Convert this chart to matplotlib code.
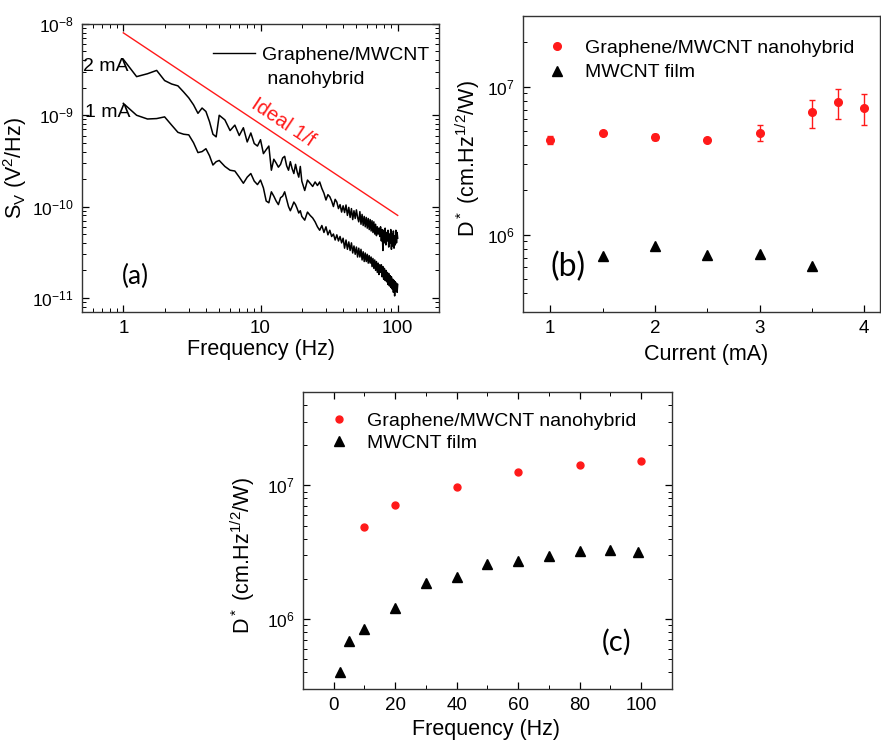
import numpy as np
import matplotlib
matplotlib.use("Agg")
import matplotlib.pyplot as plt
from matplotlib.ticker import LogLocator, FixedLocator, MultipleLocator, NullFormatter, FuncFormatter
from matplotlib.lines import Line2D

plt.rcParams['font.family'] = ['Liberation Sans', 'DejaVu Sans']
plt.rcParams['mathtext.fontset'] = 'custom'
plt.rcParams['mathtext.rm'] = 'Liberation Sans'
plt.rcParams['mathtext.it'] = 'Liberation Sans:italic'
plt.rcParams['mathtext.bf'] = 'Liberation Sans:bold'
plt.rcParams['axes.unicode_minus'] = False

# ---- panel (a): noise spectra, S_V in units of 1e-10 V^2/Hz
freq_a = [1.0, 1.25, 1.5, 1.75, 2.0, 2.25, 2.5, 2.75, 3.0, 3.25, 3.5, 3.75, 4.0, 4.25, 4.5, 4.75, 5.0,
          5.5, 6.0, 6.5, 7.0, 7.5, 8.0, 8.5, 9.0, 9.5, 10.0, 10.5, 11.0, 11.5, 12.0, 12.5, 13.0, 13.5,
          14.0, 14.5, 15.0, 15.5, 16.0, 16.5, 17.0, 17.5, 18.0, 18.5, 19.0, 19.5, 20.0,
          21, 22, 23, 24, 25, 26, 27, 28, 29, 30, 31, 32, 33, 34, 35, 36, 37, 38, 39, 40,
          41, 42, 43, 44, 45, 46, 47, 48, 49, 50, 51, 52, 53, 54, 55, 56, 57, 58, 59, 60,
          61, 62, 63, 64, 65, 66, 67, 68, 69, 70, 71, 72, 73, 74, 75, 76, 77, 78, 79, 80,
          81, 82, 83, 84, 85, 86, 87, 88, 89, 90, 91, 92, 93, 94, 95, 96, 97, 98, 99, 100]
sv_2mA = [41, 26.5, 28.5, 31, 24, 22, 21, 18, 15.5, 13, 10.5, 12, 11, 8.5, 6.2, 5.8, 10.0,
          8.9, 6.8, 7.8, 6.0, 7.3, 5.1, 6.4, 4.9, 4.6, 5.4, 3.8, 4.2, 4.6, 2.5, 3.3, 3.0, 2.7,
          2.9, 3.4, 3.55, 2.8, 2.5, 3.1, 2.6, 2.3, 2.9, 2.4, 2.1, 2.75, 1.9,
          1.5, 1.95, 1.8, 1.66, 1.86, 1.7, 1.86, 1.58, 1.4, 1.18,
          1.35, 1.28, 1.15, 1.0, 1.2, 1.12, 0.95, 1.05, 0.87, 1.02,
          0.86, 1.04, 0.8, 0.98, 0.76, 0.95, 0.72, 0.9, 0.74, 0.92,
          0.76, 0.68, 0.88, 0.64, 0.82, 0.62, 0.78, 0.6, 0.76, 0.58,
          0.74, 0.56, 0.72, 0.54, 0.7, 0.52, 0.68, 0.5, 0.64, 0.48,
          0.6, 0.5, 0.58, 0.47, 0.6, 0.42, 0.56, 0.33, 0.55, 0.40,
          0.58, 0.38, 0.52, 0.42, 0.55, 0.36, 0.5, 0.40, 0.56, 0.34,
          0.5, 0.37, 0.54, 0.35, 0.48, 0.38, 0.55, 0.40, 0.52, 0.45]
sv_1mA = [13.5, 10.0, 9.1, 9.2, 9.6, 7.8, 6.5, 6.2, 6.1, 5.0, 3.9, 4.0, 4.3, 3.6, 2.85, 3.1, 3.2,
          2.75, 2.5, 2.45, 2.1, 1.8, 2.1, 2.3, 1.9, 1.74, 1.95, 1.6, 1.15, 1.1, 1.45, 1.3, 1.15, 1.05,
          1.25, 1.3, 1.45, 1.2, 1.0, 0.9, 1.0, 1.12, 1.05, 0.95, 0.85, 0.9, 0.78,
          0.71, 0.87, 0.8, 0.75, 0.68, 0.6, 0.55, 0.62, 0.52, 0.6,
          0.49, 0.55, 0.47, 0.5, 0.43, 0.49, 0.42, 0.47, 0.40, 0.45,
          0.35, 0.43, 0.34, 0.41, 0.33, 0.40, 0.31, 0.37, 0.30, 0.36,
          0.28, 0.35, 0.28, 0.34, 0.26, 0.32, 0.25, 0.31, 0.25, 0.30,
          0.24, 0.29, 0.24, 0.28, 0.22, 0.27, 0.21, 0.26, 0.20, 0.25,
          0.19, 0.24, 0.18, 0.23, 0.19, 0.23, 0.17, 0.22, 0.16, 0.21,
          0.155, 0.20, 0.15, 0.19, 0.14, 0.185, 0.135, 0.175, 0.13, 0.17,
          0.125, 0.16, 0.115, 0.155, 0.105, 0.15, 0.12, 0.145, 0.115, 0.14]
ideal_f = [1, 100]
ideal_sv = [8e-9, 8e-11]

# ---- panel (b): D* vs current
cur_hyb = [1.0, 1.5, 2.0, 2.5, 3.0, 3.5, 3.75, 4.0]
d_hyb = [4.38e6, 4.86e6, 4.57e6, 4.38e6, 4.86e6, 6.7e6, 7.83e6, 7.18e6]
d_hyb_err = [0.28e6, 0.12e6, 0.24e6, 0.1e6, 0.6e6, 1.45e6, 1.8e6, 1.7e6]
cur_film = [1.5, 2.0, 2.5, 3.0, 3.5]
d_film = [7.13e5, 8.34e5, 7.3e5, 7.36e5, 6.1e5]

# ---- panel (c): D* vs frequency
fq_hyb = [10, 20, 40, 60, 80, 100]
dq_hyb = [4.89e6, 7.17e6, 9.78e6, 1.25e7, 1.42e7, 1.52e7]
fq_film = [2, 5, 10, 20, 30, 40, 50, 60, 70, 80, 90, 99]
dq_film = [4.02e5, 6.85e5, 8.4e5, 1.21e6, 1.86e6, 2.06e6, 2.6e6, 2.74e6, 2.95e6, 3.21e6, 3.26e6, 3.16e6]

RED = '#ff1a1a'
XTICK_FS = 13.5
YTICK_FS = 12.5
LAB_FS = 15.5
LEG_FS = 14

fig = plt.figure(figsize=(8.81, 7.40), dpi=100)
ax_a = fig.add_axes([0.0931, 0.5784, 0.4052, 0.3892])
ax_b = fig.add_axes([0.5936, 0.5784, 0.4052, 0.4000])
ax_c = fig.add_axes([0.3439, 0.0689, 0.4188, 0.4014])


def style(ax, mirror):
    ax.tick_params(which='both', direction='in', pad=6, top=mirror, right=mirror)
    ax.tick_params(axis='x', labelsize=XTICK_FS)
    ax.tick_params(axis='y', labelsize=YTICK_FS)
    ax.tick_params(which='major', length=5, width=0.9)
    ax.tick_params(which='minor', length=3, width=0.7)
    for s in ax.spines.values():
        s.set_linewidth(1.0)
        s.set_color('#333333')


def log_y(ax):
    ax.set_yscale('log')
    ax.yaxis.set_major_locator(LogLocator(base=10, numticks=20))
    ax.yaxis.set_minor_locator(LogLocator(base=10, subs=np.arange(2, 10), numticks=20))
    ax.yaxis.set_minor_formatter(NullFormatter())


# (a)
sv2 = np.array(sv_2mA) * 1e-10
sv1 = np.array(sv_1mA) * 1e-10
ax_a.plot(freq_a, sv2, color='black', lw=1.1)
ax_a.plot(freq_a, sv1, color='black', lw=1.1)
ax_a.plot(ideal_f, ideal_sv, color=RED, lw=1.0)
ax_a.set_xscale('log')
log_y(ax_a)
ax_a.set_xlim(0.5, 200)
ax_a.set_ylim(7e-12, 1e-8)
ax_a.xaxis.set_major_locator(FixedLocator([1, 10, 100]))
ax_a.xaxis.set_minor_locator(LogLocator(base=10, subs=np.arange(2, 10), numticks=20))
ax_a.xaxis.set_major_formatter(FuncFormatter(lambda v, p: '%g' % v))
ax_a.xaxis.set_minor_formatter(NullFormatter())
style(ax_a, True)
ax_a.set_xlabel('Frequency (Hz)', fontsize=LAB_FS)
ax_a.set_ylabel(r'S$_\mathrm{V}$ (V$^2$/Hz)', fontsize=LAB_FS)
ax_a.xaxis.set_label_coords(0.5, -0.094)
ax_a.yaxis.set_label_coords(-0.148, 0.5)
ax_a.text(0.003, 0.851, '2 mA', transform=ax_a.transAxes, fontsize=LEG_FS, va='center', ha='left')
ax_a.text(0.008, 0.694, '1 mA', transform=ax_a.transAxes, fontsize=LEG_FS, va='center', ha='left')
ax_a.text(0.563, 0.66, 'Ideal 1/f', transform=ax_a.transAxes, fontsize=14.5, color=RED,
          rotation=-33.7, ha='center', va='center')
ax_a.text(0.151, 0.125, '(a)', transform=ax_a.transAxes, fontsize=19, family=['Lato', 'DejaVu Sans'],
          ha='center', va='center')
h_line = Line2D([], [], color='black', lw=1.0)
h_none = Line2D([], [], linestyle='none')
ax_a.legend([h_line, h_none], ['Graphene/MWCNT', ' nanohybrid'], loc='upper left',
            bbox_to_anchor=(0.367, 0.9236), frameon=False, fontsize=LEG_FS, handlelength=2.16,
            handletextpad=0.36, labelspacing=0.37, borderpad=0, borderaxespad=0)

# (b)
eb = ax_b.errorbar(cur_hyb, d_hyb, yerr=d_hyb_err, fmt='o', color=RED, ms=5.5, ecolor=RED,
                   elinewidth=1.0, capsize=2.5, capthick=1.0)
tri_b, = ax_b.plot(cur_film, d_film, '^', color='black', ms=6.5, linestyle='none')
log_y(ax_b)
ax_b.set_xlim(0.74, 4.15)
ax_b.set_ylim(3e5, 3e7)
ax_b.xaxis.set_major_locator(MultipleLocator(1))
ax_b.xaxis.set_minor_locator(MultipleLocator(0.5))
style(ax_b, False)
ax_b.set_xlabel('Current (mA)', fontsize=LAB_FS)
ax_b.set_ylabel(r'D$^*$ (cm.Hz$^{1/2}$/W)', fontsize=LAB_FS)
ax_b.xaxis.set_label_coords(0.513, -0.108)
ax_b.yaxis.set_label_coords(-0.115, 0.52)
ax_b.text(0.126, 0.152, '(b)', transform=ax_b.transAxes, fontsize=23, family=['Lato', 'DejaVu Sans'],
          ha='center', va='center')
dot_b = Line2D([], [], marker='o', color=RED, ms=5.5, linestyle='none')
ax_b.legend([dot_b, tri_b], ['Graphene/MWCNT nanohybrid', 'MWCNT film'], loc='upper left',
            bbox_to_anchor=(0.068, 0.9225), frameon=False, fontsize=LEG_FS,
            handlelength=1.0, handletextpad=0.94, labelspacing=0.37, borderpad=0, borderaxespad=0)

# (c)
ax_c.plot(fq_hyb, dq_hyb, 'o', color=RED, ms=5, linestyle='none', label='Graphene/MWCNT nanohybrid')
ax_c.plot(fq_film, dq_film, '^', color='black', ms=7, linestyle='none', label='MWCNT film')
log_y(ax_c)
ax_c.set_xlim(-10, 110)
ax_c.set_ylim(3e5, 5e7)
ax_c.xaxis.set_major_locator(MultipleLocator(20))
ax_c.xaxis.set_minor_locator(MultipleLocator(10))
style(ax_c, True)
ax_c.set_xlabel('Frequency (Hz)', fontsize=LAB_FS)
ax_c.set_ylabel(r'D$^*$ (cm.Hz$^{1/2}$/W)', fontsize=LAB_FS)
ax_c.xaxis.set_label_coords(0.497, -0.101)
ax_c.yaxis.set_label_coords(-0.125, 0.448)
ax_c.text(0.851, 0.158, '(c)', transform=ax_c.transAxes, fontsize=21, family=['Lato', 'DejaVu Sans'],
          ha='center', va='center')
ax_c.legend(loc='upper left', bbox_to_anchor=(0.071, 0.932), frameon=False, fontsize=LEG_FS,
            handlelength=1.0, handletextpad=0.94, labelspacing=0.22, borderpad=0, borderaxespad=0)

fig.savefig('out.png', dpi=100)
